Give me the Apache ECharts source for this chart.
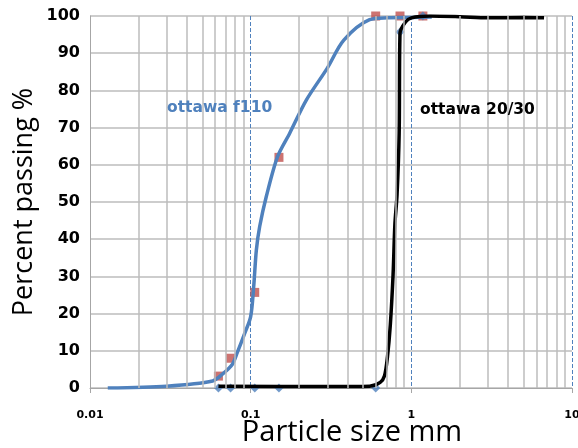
<!DOCTYPE html>
<html>
<head>
<meta charset="utf-8">
<script src="https://cdn.jsdelivr.net/npm/echarts@6/dist/echarts.min.js"></script>
<style>html,body{margin:0;padding:0;background:#fff}#c{width:578px;height:448px}</style>
</head>
<body>
<div id="c"></div>
<script>
// Fitted curve: ottawa f110
var f110Size = [0.0129, 0.03, 0.058, 0.067, 0.077, 0.0825, 0.0918, 0.1, 0.1044, 0.1085, 0.1138, 0.125, 0.147, 0.175, 0.222, 0.30, 0.38, 0.55, 0.71, 1.0, 1.34];
var f110Pass = [0, 0.5, 1.9, 3.8, 6.4, 9.5, 14.7, 19.2, 27.2, 37.1, 43.4, 51.4, 62.2, 68.5, 77.4, 86, 93.5, 99, 99.5, 99.6, 99.7];
// Fitted curve: ottawa 20/30
var s2030Size = [0.063, 0.3, 0.55, 0.64, 0.68, 0.71, 0.74, 0.77, 0.79, 0.815, 0.84, 0.85, 0.92, 1.0, 1.3, 2, 3, 5, 6.7];
var s2030Pass = [0.5, 0.4, 0.5, 1.5, 3.2, 8.3, 17, 30.6, 44, 52, 68.5, 95.4, 98.4, 99.5, 100, 99.8, 99.5, 99.6, 99.5];
// Measured points
var sieveSize = [0.063, 0.075, 0.106, 0.15, 0.6, 0.85, 1.18];
var f110Measured = [3.2, 8, 25.7, 62, 100, 100, 100];
var s2030Measured = [0, 0, 0, 0, 0, 95.7, 100];
// Minor grid positions on the log axis
var minorTicks = [0.02,0.03,0.04,0.05,0.06,0.07,0.08,0.09,0.2,0.3,0.4,0.5,0.6,0.7,0.8,0.9,2,3,4,5,6,7,8,9];
var yTicks = {min: 0, max: 100, interval: 10};

function zip(a, b) { return a.map(function (v, i) { return [v, b[i]]; }); }

var chart = echarts.init(document.getElementById('c'));
chart.setOption({
  animation: false,
  grid: {left: 90, right: 6, top: 16, bottom: 60, containLabel: false, outerBoundsMode: 'none'},
  xAxis: {
    type: 'log', logBase: 10, min: 0.01, max: 10,
    name: 'Particle size mm', nameLocation: 'middle', nameGap: 30, nameMoveOverlap: false,
    nameTextStyle: {fontFamily: 'Open Sans', fontSize: 29, color: '#000', padding: [0, 0, 0, 42]},
    axisLine: {show: true, onZero: false, lineStyle: {color: '#a6a6a6', width: 1}},
    axisTick: {show: true, length: 5, lineStyle: {color: '#a6a6a6'}},
    axisLabel: {margin: 22, fontFamily: 'DejaVu Sans', fontWeight: 'bold', fontSize: 11, color: '#000',
      formatter: function (v) { return String(v); }},
    splitLine: {show: true, lineStyle: {color: '#4f81bd', type: 'dashed', width: 1}}
  },
  yAxis: {
    type: 'value', min: yTicks.min, max: yTicks.max, interval: yTicks.interval,
    name: 'Percent passing %', nameLocation: 'middle', nameGap: 52, nameMoveOverlap: false,
    nameTextStyle: {fontFamily: 'Open Sans', fontSize: 27, color: '#000', padding: [0, 0, 0, 0]},
    axisLine: {show: true, lineStyle: {color: '#a6a6a6', width: 1}},
    axisTick: {show: false},
    axisLabel: {margin: 10, fontFamily: 'DejaVu Sans', fontWeight: 'bold', fontSize: 16, color: '#000'},
    splitLine: {show: true, lineStyle: {color: '#bdbdbd', width: 1.5}}
  },
  graphic: [
    {type: 'text', z: 100, left: 167, top: 100, style: {text: 'ottawa f110', fill: '#4f81bd', font: 'bold 15.5px "DejaVu Sans"'}},
    {type: 'text', z: 100, left: 420, top: 102, style: {text: 'ottawa 20/30', fill: '#000', font: 'bold 15.5px "DejaVu Sans"'}}
  ],
  series: [
    {
      type: 'line', data: [], silent: true,
      markLine: {
        silent: true, symbol: 'none', label: {show: false},
        lineStyle: {color: '#bdbdbd', type: 'solid', width: 1.5},
        data: minorTicks.map(function (t) { return {xAxis: t}; })
      }
    },
    {
      type: 'scatter', name: 'f110 measured', data: zip(sieveSize, f110Measured),
      symbol: 'rect', symbolSize: 9, itemStyle: {color: '#c0504d'}
    },
    {
      type: 'scatter', name: '20/30 measured', data: zip(sieveSize, s2030Measured),
      symbol: 'diamond', symbolSize: 9, itemStyle: {color: '#4f81bd'}
    },
    {
      type: 'line', name: 'ottawa f110', data: zip(f110Size, f110Pass),
      showSymbol: false, smooth: 0.3,
      lineStyle: {color: '#4f81bd', width: 3.5}
    },
    {
      type: 'line', name: 'ottawa 20/30', data: zip(s2030Size, s2030Pass),
      showSymbol: false, smooth: 0.3,
      lineStyle: {color: '#000', width: 3.5}
    }
  ]
});
</script>
</body>
</html>
